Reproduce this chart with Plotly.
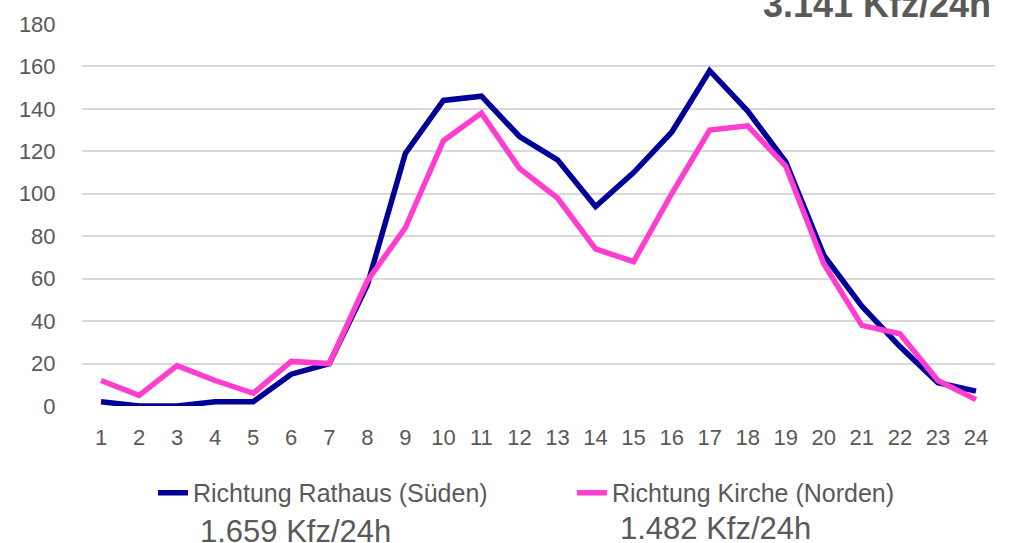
import plotly.graph_objects as go

hours = list(range(1, 25))
rathaus = [2, 0, 0, 2, 2, 15, 20, 57, 119, 144, 146, 127, 116, 94, 110, 129, 158, 139, 115, 71, 47, 28, 11, 7]
kirche = [12, 5, 19, 12, 6, 21, 20, 59, 84, 125, 138, 112, 98, 74, 68, 100, 130, 132, 113, 67, 38, 34, 12, 3]
names = ["Richtung Rathaus (Süden)", "Richtung Kirche (Norden)"]
total_label = "3.141 Kfz/24h"
series_labels = ["1.659 Kfz/24h", "1.482 Kfz/24h"]
y_ticks = list(range(0, 181, 20))

FONT = "Liberation Sans, Arial, sans-serif"
GRAY = "#595959"
W, H = 1011, 543
L, R, T, B = 82, 16, 18, 137
PW, PH = W - L - R, H - T - B

fig = go.Figure()
fig.add_trace(go.Scatter(x=hours, y=rathaus, mode="lines", name=names[0],
                         line=dict(color="#000099", width=5.5)))
fig.add_trace(go.Scatter(x=hours, y=kirche, mode="lines", name=names[1],
                         line=dict(color="#FF3DCF", width=5.5)))

fig.update_layout(
    width=W, height=H,
    margin=dict(l=L, r=R, t=T, b=B),
    paper_bgcolor="white", plot_bgcolor="white",
    font=dict(family=FONT, color=GRAY, size=22),
    showlegend=True,
    legend=dict(orientation="h", x=(153 - L) / PW, xanchor="left", y=-65 / PH, yanchor="top",
                font=dict(size=25, color=GRAY), entrywidth=374, entrywidthmode="pixels",
                bgcolor="rgba(0,0,0,0)"),
    xaxis=dict(range=[0.5, 24.5], tickmode="array", tickvals=hours,
               ticktext=[str(h) for h in hours], showgrid=False, zeroline=False,
               showline=False, ticks="outside", ticklen=12, tickcolor="rgba(0,0,0,0)",
               tickfont=dict(size=22, color=GRAY)),
    yaxis=dict(range=[0, 180], tickvals=y_ticks, showgrid=True, gridcolor="#d9d9d9",
               gridwidth=1.5, zeroline=False, showline=False, ticks="outside",
               ticklen=21, tickcolor="rgba(0,0,0,0)", tickfont=dict(size=22, color=GRAY)),
)

fig.add_annotation(text="<b>" + total_label + "</b>", xref="paper", yref="paper",
                   x=(877 - L) / PW, y=1.0, xanchor="center", yanchor="bottom", yshift=-3,
                   showarrow=False, font=dict(size=36, color=GRAY, family=FONT))
fig.add_annotation(text=series_labels[0], xref="paper", yref="paper",
                   x=(295 - L) / PW, y=0, yshift=-(531 - (H - B)), xanchor="center", yanchor="middle",
                   showarrow=False, font=dict(size=31, color=GRAY, family=FONT))
fig.add_annotation(text=series_labels[1], xref="paper", yref="paper",
                   x=(715 - L) / PW, y=0, yshift=-(528 - (H - B)), xanchor="center", yanchor="middle",
                   showarrow=False, font=dict(size=31, color=GRAY, family=FONT))

fig.write_html("out.html", config={"displayModeBar": False},
               post_script="document.body.style.margin='0';document.body.style.overflow='hidden';")
